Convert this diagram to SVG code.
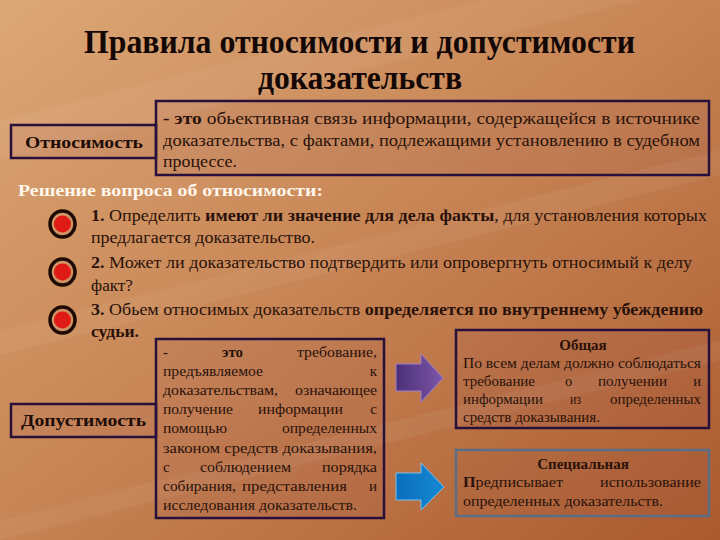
<svg xmlns="http://www.w3.org/2000/svg" width="720" height="540" viewBox="0 0 720 540">
<defs>
<linearGradient id="bg" x1="0" y1="0" x2="1" y2="1">
<stop offset="0" stop-color="#dca776"/>
<stop offset="0.45" stop-color="#c98757"/>
<stop offset="1" stop-color="#aa5a2f"/>
</linearGradient>
<linearGradient id="purp" x1="0" y1="0" x2="1" y2="0">
<stop offset="0" stop-color="#4a3078"/>
<stop offset="1" stop-color="#7d56a8"/>
</linearGradient>
<linearGradient id="blue" x1="0" y1="0" x2="1" y2="0">
<stop offset="0" stop-color="#0a6fbc"/>
<stop offset="1" stop-color="#1688d4"/>
</linearGradient>
<style>
.box{fill:#7a3c6a;fill-opacity:0.07;stroke:#28103c;stroke-width:2.5}
.spec{fill:#7a3c6a;fill-opacity:0.05;stroke:#5a6e86;stroke-width:2.5}
.t{font-family:"Liberation Serif","Times New Roman",serif;fill:#2a120a}
.b{font-weight:bold}
.title{font-family:"Liberation Serif","Times New Roman",serif;font-weight:bold;font-size:33px;fill:#140806}
.lbl{font-family:"Liberation Serif","Times New Roman",serif;font-weight:bold;font-size:17.5px;fill:#1e0c08}
.top{font-size:17px}
.it{font-size:17.5px}
.mid{font-size:15px}
.rt{font-size:14.5px}
.ring{fill:none;stroke:#1e0a05;stroke-width:3.5}
.dot{fill:#e01a16}
</style>
</defs>
<rect x="0" y="0" width="720" height="540" fill="url(#bg)"/>
<g opacity="0.05" fill="#ffffff">
<polygon points="0,120 720,-60 720,-20 0,160"/>
<polygon points="0,330 720,150 720,175 0,355"/>
<polygon points="0,520 720,340 720,360 0,540"/>
</g>

<g id="title">
<text class="title" x="84" y="53" textLength="551" lengthAdjust="spacingAndGlyphs">Правила относимости и допустимости</text>
<text class="title" x="258" y="89" textLength="204" lengthAdjust="spacingAndGlyphs">доказательств</text>
</g>

<g id="node-relevance-def">
<rect class="box" x="156" y="101" width="553" height="74"/>
<text class="t top" x="163" y="124" textLength="537" lengthAdjust="spacingAndGlyphs"><tspan class="b">- это</tspan> обьективная связь информации, содержащейся в источнике</text>
<text class="t top" x="163" y="146" textLength="537" lengthAdjust="spacingAndGlyphs">доказательства, с фактами, подлежащими установлению в судебном</text>
<text class="t top" x="163" y="167" textLength="74" lengthAdjust="spacingAndGlyphs">процессе.</text>
</g>

<g id="node-relevance">
<rect class="box" x="11" y="125" width="145" height="33"/>
<text class="lbl" x="25" y="148" textLength="118" lengthAdjust="spacingAndGlyphs">Относимость</text>
</g>

<g id="relevance-steps">
<text class="lbl" x="18" y="196" textLength="305" lengthAdjust="spacingAndGlyphs" style="fill:#fff6ec">Решение вопроса об относимости:</text>
<ellipse class="ring" cx="62.5" cy="224" rx="12.5" ry="13"/>
<circle class="dot" cx="62.5" cy="224" r="8.5"/>
<ellipse class="ring" cx="62.5" cy="272" rx="12.5" ry="13"/>
<circle class="dot" cx="62.5" cy="272" r="8.5"/>
<ellipse class="ring" cx="62.5" cy="320" rx="12.5" ry="13"/>
<circle class="dot" cx="62.5" cy="320" r="8.5"/>
<text class="t it" x="91" y="221" textLength="616" lengthAdjust="spacingAndGlyphs"><tspan class="b">1.</tspan> Определить <tspan class="b">имеют ли значение для дела факты</tspan>, для установления которых</text>
<text class="t it" x="91" y="243" textLength="224" lengthAdjust="spacingAndGlyphs">предлагается доказательство.</text>
<text class="t it" x="91" y="268" textLength="601" lengthAdjust="spacingAndGlyphs"><tspan class="b">2.</tspan> Может ли доказательство подтвердить или опровергнуть относимый к делу</text>
<text class="t it" x="91" y="291" textLength="42" lengthAdjust="spacingAndGlyphs">факт?</text>
<text class="t it" x="91" y="315" textLength="612" lengthAdjust="spacingAndGlyphs"><tspan class="b">3.</tspan> Обьем относимых доказательств <tspan class="b">определяется по внутреннему убеждению</tspan></text>
<text class="t it b" x="91" y="337" textLength="48" lengthAdjust="spacingAndGlyphs">судьи.</text>
</g>

<g id="node-admissibility-def">
<rect class="box" x="156" y="339" width="228" height="179"/>
<g class="t mid">
<text x="163" y="357">-</text>
<text x="222" y="357" class="b" textLength="21" lengthAdjust="spacingAndGlyphs">это</text>
<text x="297" y="357" textLength="80" lengthAdjust="spacingAndGlyphs">требование,</text>
<text x="163" y="376" textLength="100" lengthAdjust="spacingAndGlyphs">предъявляемое</text>
<text x="377" y="376" text-anchor="end">к</text>
<text x="163" y="395" textLength="115" lengthAdjust="spacingAndGlyphs">доказательствам,</text>
<text x="295" y="395" textLength="82" lengthAdjust="spacingAndGlyphs">означающее</text>
<text x="163" y="414" textLength="70" lengthAdjust="spacingAndGlyphs">получение</text>
<text x="258" y="414" textLength="85" lengthAdjust="spacingAndGlyphs">информации</text>
<text x="377" y="414" text-anchor="end">с</text>
<text x="163" y="433" textLength="64" lengthAdjust="spacingAndGlyphs">помощью</text>
<text x="282" y="433" textLength="95" lengthAdjust="spacingAndGlyphs">определенных</text>
<text x="163" y="453" textLength="214" lengthAdjust="spacingAndGlyphs">законом средств доказывания,</text>
<text x="163" y="472">с</text>
<text x="200" y="472" textLength="91" lengthAdjust="spacingAndGlyphs">соблюдением</text>
<text x="322" y="472" textLength="55" lengthAdjust="spacingAndGlyphs">порядка</text>
<text x="163" y="491" textLength="73" lengthAdjust="spacingAndGlyphs">собирания,</text>
<text x="242" y="491" textLength="105" lengthAdjust="spacingAndGlyphs">представления</text>
<text x="377" y="491" text-anchor="end">и</text>
<text x="163" y="510" textLength="194" lengthAdjust="spacingAndGlyphs">исследования доказательств.</text>
</g>
</g>

<g id="node-admissibility">
<rect class="box" x="11" y="404" width="145" height="33"/>
<text class="lbl" x="21" y="426" textLength="125" lengthAdjust="spacingAndGlyphs">Допустимость</text>
</g>

<g id="connectors">
<polygon points="396,364 421,364 421,354 443,378 421,402 421,391 396,391" fill="url(#purp)" stroke="#a07fd0" stroke-width="1"/>
<polygon points="396,473 421,473 421,463 444,487 421,510 421,500 396,500" fill="url(#blue)" stroke="#7cc0ea" stroke-width="1"/>
</g>

<g id="node-general">
<rect class="box" x="456" y="330" width="253" height="98"/>
<g class="t rt">
<text x="583" y="350" text-anchor="middle" class="b" style="font-size:15px">Общая</text>
<text x="463" y="368" textLength="238" lengthAdjust="spacingAndGlyphs">По всем делам должно соблюдаться</text>
<text x="463" y="386" textLength="72" lengthAdjust="spacingAndGlyphs">требование</text>
<text x="565" y="386">о</text>
<text x="598" y="386" textLength="69" lengthAdjust="spacingAndGlyphs">получении</text>
<text x="701" y="386" text-anchor="end">и</text>
<text x="463" y="404" textLength="80" lengthAdjust="spacingAndGlyphs">информации</text>
<text x="570" y="404" textLength="11" lengthAdjust="spacingAndGlyphs">из</text>
<text x="610" y="404" textLength="91" lengthAdjust="spacingAndGlyphs">определенных</text>
<text x="463" y="422" textLength="137" lengthAdjust="spacingAndGlyphs">средств доказывания.</text>
</g>
</g>

<g id="node-special">
<rect class="spec" x="456" y="450" width="253" height="66"/>
<g class="t rt">
<text x="583" y="469" text-anchor="middle" class="b" style="font-size:15px">Специальная</text>
<text x="463" y="487" textLength="100" lengthAdjust="spacingAndGlyphs"><tspan class="b">П</tspan>редписывает</text>
<text x="600" y="487" textLength="101" lengthAdjust="spacingAndGlyphs">использование</text>
<text x="463" y="506" textLength="200" lengthAdjust="spacingAndGlyphs">определенных доказательств.</text>
</g>
</g>
</svg>
